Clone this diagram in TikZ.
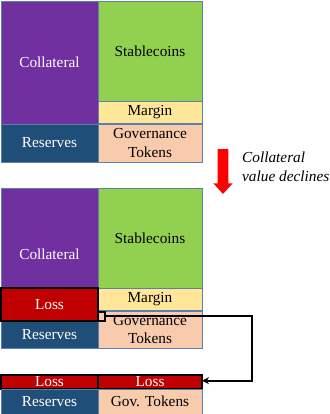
\documentclass[tikz,border=0pt]{standalone}
\usepackage{fontspec}
\setmainfont{Liberation Serif}
\usetikzlibrary{arrows.meta}
\definecolor{cpurple}{HTML}{7030A0}
\definecolor{cgreen}{HTML}{92D050}
\definecolor{cyellow}{HTML}{FFE699}
\definecolor{cpeach}{HTML}{F8CBAD}
\definecolor{cnavy}{HTML}{1F4E79}
\definecolor{closs}{HTML}{C00000}
\definecolor{cborder}{HTML}{5B7FAF}
\definecolor{cred}{HTML}{FF0000}
\tikzset{
  x=1pt, y=-1pt,
  box/.style={draw=cborder, line width=0.9pt, rectangle, anchor=north west,
    inner sep=0pt, outer sep=0pt, font=\fontsize{15.3}{18.5}\selectfont, align=center},
  lightbox/.style={box, text=white},
  lossbox/.style={box, draw=black, line width=1.3pt, fill=closs, text=white},
  conn/.style={draw=black, line width=2pt, -{Stealth[length=7pt,width=7pt]}},
}
\begin{document}
\begin{tikzpicture}
\useasboundingbox (0,0) rectangle (329,414);
% block 1
\node[lightbox, fill=cpurple, minimum width=97pt, minimum height=123pt] (coll1) at (1,1) {Collateral};
\node[box, fill=cgreen, minimum width=104pt, minimum height=100pt] (stab1) at (98,1) {Stablecoins};
\node[box, fill=cyellow, minimum width=104pt, minimum height=22pt] (marg1) at (98,101) {Margin};
\node[box, fill=cpeach, minimum width=104pt, minimum height=38pt] (gov1) at (98,124) {Governance\\Tokens};
\node[lightbox, fill=cnavy, minimum width=97pt, minimum height=38pt] (res1) at (1,124) {Reserves};
% red arrow
\fill[cred] (217.7,149) -- (228.3,149) -- (228.3,183.3) -- (232.7,183.3) -- (223,194)
  -- (213.3,183.3) -- (217.7,183.3) -- cycle;
\node[anchor=west, align=left, inner sep=0pt, font=\fontsize{15.3}{18.5}\selectfont\itshape] (note) at (242,167) {Collateral\\value declines};
% block 2
\node[lightbox, fill=cpurple, minimum width=97pt, minimum height=133pt] (coll2) at (1,188) {Collateral};
\node[box, fill=cgreen, minimum width=104pt, minimum height=100pt] (stab2) at (98,188) {Stablecoins};
\node[box, fill=cyellow, minimum width=104pt, minimum height=22pt] (marg2) at (98,288) {Margin};
\node[box, fill=cpeach, minimum width=104pt, minimum height=37pt] (gov2) at (98,311) {Governance\\Tokens};
\node[lightbox, fill=cnavy, minimum width=97pt, minimum height=27pt] (res2) at (1,321) {Reserves};
\node[lossbox, minimum width=97pt, minimum height=33pt] (loss2) at (1,288) {Loss};
\node[draw=black, line width=1.3pt, anchor=north west, inner sep=0pt, outer sep=0pt,
  minimum width=6.5pt, minimum height=9pt] (sq) at (98.5,312) {};
% block 3
\node[lossbox, minimum width=97pt, minimum height=14pt] (lossA) at (1,375) {Loss};
\node[lossbox, minimum width=104pt, minimum height=14pt] (lossB) at (98,375) {Loss};
\node[lightbox, fill=cnavy, minimum width=97pt, minimum height=25pt] (resB) at (1,389) {Reserves};
\node[box, fill=cpeach, minimum width=104pt, minimum height=25pt] (govB) at (98,389) {Gov. Tokens};
% connector
\coordinate (c1) at (252.3,315.5);
\coordinate (c2) at (252.3,380.7);
\draw[conn] (sq.east |- c1) -- (c1) -- (c2) -- (lossB.east |- c2);
\end{tikzpicture}
\end{document}
